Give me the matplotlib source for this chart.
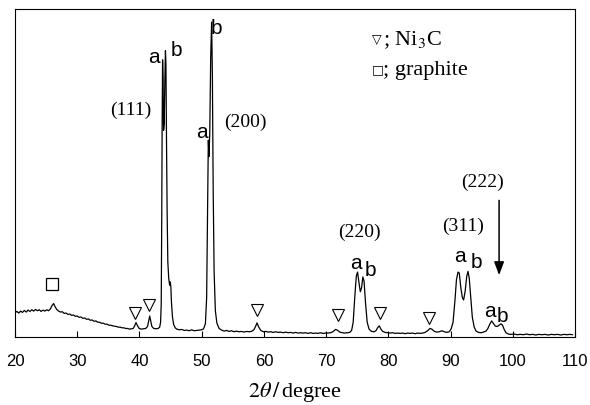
import matplotlib
matplotlib.use("Agg")
import matplotlib.pyplot as plt

# XRD pattern (2theta in degree, intensity in arbitrary units)
two_theta = [
    20.0, 20.3, 20.6, 20.9, 21.2, 21.5, 21.8, 22.1, 22.4, 22.7, 23.0, 23.3, 23.6, 23.9,
    24.2, 24.5, 24.8, 25.1, 25.4, 25.7, 25.95, 26.2, 26.45, 26.7, 27.0, 27.3, 27.6, 27.9,
    28.2, 28.5, 28.8, 29.1, 29.4, 29.7, 30.0, 30.3, 30.6, 30.9, 31.2, 31.5, 31.8, 32.1,
    32.4, 32.7, 33.0, 33.3, 33.6, 33.9, 34.2, 34.5, 34.8, 35.1, 35.4, 35.7, 36.0, 36.3,
    36.6, 36.9, 37.2, 37.5, 37.8, 38.1, 38.4, 38.7, 39.0, 39.2, 39.45, 39.7, 39.95, 40.3,
    40.7, 41.0, 41.3, 41.5, 41.65, 41.8, 42.0, 42.3, 42.7, 43.0, 43.25, 43.4, 43.5, 43.58,
    43.65, 43.72, 43.8, 43.88, 43.98, 44.08, 44.18, 44.26, 44.34, 44.45, 44.56, 44.7, 44.85,
    44.95, 45.05, 45.15, 45.3, 45.5, 45.75, 46.0, 46.4, 46.8, 47.2, 47.6, 48.0, 48.4, 48.8,
    49.2, 49.6, 50.0, 50.3, 50.6, 50.8, 50.95, 51.07, 51.17, 51.3, 51.45, 51.6, 51.72, 51.85,
    52.0, 52.2, 52.45, 52.8, 53.2, 53.6, 54.0, 54.4, 54.8, 55.2, 55.6, 56.0, 56.4, 56.8,
    57.2, 57.6, 58.0, 58.4, 58.7, 58.9, 59.15, 59.5, 59.9, 60.3, 60.7, 61.1, 61.5, 61.9,
    62.3, 62.7, 63.1, 63.5, 63.9, 64.3, 64.7, 65.1, 65.5, 65.9, 66.3, 66.7, 67.1, 67.5,
    67.9, 68.3, 68.7, 69.1, 69.5, 69.9, 70.3, 70.7, 71.1, 71.5, 71.8, 72.2, 72.6, 73.0,
    73.4, 73.8, 74.1, 74.35, 74.6, 74.85, 75.05, 75.25, 75.5, 75.7, 75.9, 76.1, 76.35, 76.6,
    76.9, 77.3, 77.7, 78.0, 78.3, 78.55, 78.8, 79.1, 79.5, 79.9, 80.3, 80.7, 81.1, 81.5,
    81.9, 82.3, 82.7, 83.1, 83.5, 83.9, 84.3, 84.7, 85.1, 85.5, 85.9, 86.3, 86.7, 87.0,
    87.4, 87.8, 88.2, 88.6, 89.0, 89.4, 89.8, 90.1, 90.4, 90.7, 90.95, 91.2, 91.4, 91.65,
    91.9, 92.1, 92.35, 92.6, 92.8, 93.0, 93.25, 93.5, 93.8, 94.1, 94.5, 94.9, 95.3, 95.7,
    96.0, 96.3, 96.6, 96.9, 97.2, 97.5, 97.8, 98.1, 98.35, 98.6, 98.9, 99.3, 99.7, 100.2,
    100.7, 101.2, 101.7, 102.2, 102.7, 103.2, 103.7, 104.2, 104.7, 105.2, 105.7, 106.2, 106.7, 107.2,
    107.7, 108.2, 108.7, 109.2, 109.6,
]
intensity = [
    7.4, 7.8, 7.3, 7.9, 7.5, 8.1, 7.6, 8.2, 7.8, 8.3, 7.9, 8.4, 8.0, 8.3,
    7.8, 8.2, 7.9, 8.3, 8.0, 8.6, 9.6, 10.2, 9.2, 8.4, 7.9, 7.6, 7.7, 7.2,
    7.3, 6.9, 7.0, 6.6, 6.7, 6.3, 6.4, 6.0, 6.1, 5.7, 5.8, 5.4, 5.5, 5.1,
    5.2, 4.8, 4.9, 4.5, 4.5, 4.2, 4.2, 3.9, 3.9, 3.6, 3.6, 3.4, 3.3, 3.2,
    3.0, 3.0, 2.8, 2.8, 2.6, 2.6, 2.4, 2.5, 2.6, 3.3, 4.4, 3.4, 2.6, 2.4,
    2.5, 2.6, 3.2, 5.0, 6.4, 5.0, 3.2, 2.6, 2.5, 2.6, 3.0, 4.5, 10, 35,
    65, 84.5, 78, 63, 65, 78, 87.3, 83, 62, 38, 23, 18, 15.8,
    16.8, 15.2, 10.5, 6.2, 3.8, 2.8, 2.4, 2.2, 2.3, 2.0, 2.1, 1.9, 2.2, 1.9,
    2.0, 2.1, 2.2, 2.5, 4.0, 12, 40, 60, 55, 62, 85, 96, 80, 45,
    20, 8, 4.2, 2.6, 2.1, 1.8, 2.0, 1.7, 1.9, 1.6, 1.8, 1.6, 1.7, 1.5,
    1.7, 1.6, 1.7, 2.2, 3.4, 4.3, 3.1, 2.0, 1.6, 1.7, 1.5, 1.6, 1.4, 1.6,
    1.4, 1.5, 1.3, 1.5, 1.3, 1.4, 1.2, 1.4, 1.2, 1.3, 1.2, 1.3, 1.1, 1.3,
    1.1, 1.2, 1.1, 1.3, 1.1, 1.2, 1.2, 1.3, 1.6, 2.3, 2.1, 1.5, 1.3, 1.2,
    1.3, 1.4, 2.0, 4.5, 12, 18.5, 19.8, 17, 13.8, 15, 18.3, 17, 10, 4.5,
    2.4, 1.7, 1.6, 1.9, 2.9, 3.4, 2.4, 1.7, 1.4, 1.3, 1.2, 1.3, 1.1, 1.2,
    1.1, 1.2, 1.0, 1.2, 1.1, 1.2, 1.0, 1.2, 1.1, 1.2, 1.4, 1.9, 2.6, 2.4,
    1.7, 1.5, 1.6, 1.9, 1.6, 1.4, 1.6, 2.5, 4.5, 11, 17.5, 19.8, 19.5, 15,
    12, 11.3, 14, 18.5, 20, 18, 12, 6, 3, 1.8, 1.4, 1.3, 1.5, 1.8,
    2.6, 3.9, 4.9, 4.1, 3.3, 3.2, 3.6, 4.0, 3.6, 2.4, 1.3, 0.9, 0.8, 0.9,
    0.7, 0.8, 0.7, 0.9, 0.7, 0.8, 0.6, 0.8, 0.7, 0.8, 0.6, 0.8, 0.7, 0.8,
    0.6, 0.8, 0.7, 0.8, 0.7,
]

# phase markers
ni3c_pos = [39.3, 41.6, 58.9, 71.9, 78.7, 86.5]
ni3c_y = [7.3, 9.8, 8.2, 6.7, 7.3, 5.8]
graphite_pos = [25.95]
graphite_y = [16.2]

xticks = [20, 30, 40, 50, 60, 70, 80, 90, 100, 110]

plt.rcParams['mathtext.fontset'] = 'stix'
serif = ['Liberation Serif', 'DejaVu Serif']
sans = ['Liberation Sans', 'DejaVu Sans']

fig = plt.figure(figsize=(5.9, 4.05), dpi=100)
ax = fig.add_axes([15 / 590, 1 - 337 / 405, 560 / 590, 328 / 405])

ax.plot(two_theta, intensity, color='black', lw=0.9)
ax.plot(ni3c_pos, ni3c_y, ls='none', marker='v', ms=8, mfc='white', mec='black', mew=0.8)
ax.plot(graphite_pos, graphite_y, ls='none', marker='s', ms=8, mfc='white', mec='black', mew=0.9)

ax.set_xlim(20, 110)
ax.set_ylim(0, 100)
ax.set_xticks(xticks)
ax.set_yticks([])
ax.tick_params(axis='x', direction='in', length=4, width=0.8, pad=12, labelsize=12)
for lb in ax.get_xticklabels():
    lb.set_family(sans)
for sp in ax.spines.values():
    sp.set_linewidth(0.8)

# Miller indices
for txt, x, y in [('(111)', 38.6, 69.2), ('(200)', 57.1, 65.5), ('(220)', 75.3, 32.0),
                  ('(311)', 92.0, 33.8), ('(222)', 95.2, 47.0)]:
    ax.text(x, y, txt, ha='center', va='center', fontsize=14, family=serif)

# a / b labels
for txt, x, y in [('a', 42.3, 85.1), ('b', 46.0, 87.5), ('a', 50.0, 62.5), ('b', 52.3, 94.2),
                  ('a', 74.8, 22.3), ('b', 77.1, 20.4), ('a', 91.5, 24.4), ('b', 94.1, 22.6),
                  ('a', 96.3, 7.9), ('b', 98.4, 6.1)]:
    ax.text(x, y, txt, ha='center', va='center', fontsize=15, family=sans)

ax.annotate('', xy=(97.8, 18.0), xytext=(97.8, 42.5),
            arrowprops=dict(arrowstyle='-|>,head_length=0.8,head_width=0.3', color='black', lw=1.1))

# legend-like notes
ax.text(77.3, 90.6, '\u25bd', ha='left', va='center', fontsize=9, family='DejaVu Sans')
ax.text(79.2, 90.5, '; Ni$_3$C', ha='left', va='center', fontsize=16, family=serif)
ax.text(77.3, 81.6, '\u25a1', ha='left', va='center', fontsize=9, family='DejaVu Sans')
ax.text(79.2, 81.4, '; graphite', ha='left', va='center', fontsize=16, family=serif)

fig.text(295 / 590, 1 - 392 / 405, r'$2\theta\,/\,$degree', ha='center', va='center',
         fontsize=16, family=serif)

fig.savefig('out.png', dpi=100)
